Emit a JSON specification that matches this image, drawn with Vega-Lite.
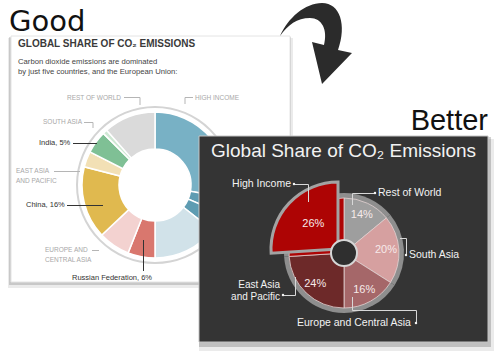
{
  "$schema": "https://vega.github.io/schema/vega-lite/v6.json",
  "width": 500,
  "height": 353,
  "autosize": {"type": "fit", "contains": "padding"},
  "padding": 0,
  "background": "#ffffff",
  "config": {"view": {"stroke": null}, "text": {"font": "Liberation Sans"}},
  "data": {"values": [{}]},
  "datasets": {
    "good": [
      {"segment": "High income", "share": 27.8, "rank": 1},
      {"segment": "High income, part 2", "share": 3.6, "rank": 2},
      {"segment": "High income, part 3", "share": 4.2, "rank": 3},
      {"segment": "High income, other", "share": 14.4, "rank": 4},
      {"segment": "Russian Federation", "share": 6, "rank": 5},
      {"segment": "Europe and Central Asia", "share": 7, "rank": 6},
      {"segment": "China", "share": 16, "rank": 7},
      {"segment": "East Asia and Pacific", "share": 3.5, "rank": 8},
      {"segment": "India", "share": 5, "rank": 9},
      {"segment": "South Asia", "share": 1, "rank": 10},
      {"segment": "Rest of World", "share": 11.5, "rank": 11}
    ],
    "better": [
      {"region": "Rest of World", "share": 0.14, "rank": 1},
      {"region": "South Asia", "share": 0.20, "rank": 2},
      {"region": "Europe and Central Asia", "share": 0.16, "rank": 3},
      {"region": "East Asia and Pacific", "share": 0.24, "rank": 4},
      {"region": "High Income", "share": 0.26, "rank": 5}
    ]
  },
  "resolve": {"scale": {"theta": "independent", "color": "independent"}},
  "layer": [
    {"mark": {"type": "rect", "x": 8, "y": 38, "x2": 293, "y2": 288, "fill": "#000000", "opacity": 0.08}, "encoding": {}},
    {"mark": {"type": "rect", "x": 9, "y": 37, "x2": 291, "y2": 285, "fill": "#000000", "opacity": 0.15}, "encoding": {}},
    {"mark": {"type": "rect", "x": 11, "y": 36, "x2": 290, "y2": 282, "fill": "#ffffff", "stroke": "#e4e4e4", "strokeWidth": 1}, "encoding": {}},
    {"mark": {"type": "text", "x": 18, "y": 44, "align": "left", "baseline": "middle", "fontSize": 10, "fontWeight": "bold", "fill": "#3a3a3a", "text": "GLOBAL SHARE OF CO₂ EMISSIONS"}},
    {"mark": {"type": "text", "x": 18, "y": 64, "align": "left", "baseline": "alphabetic", "fontSize": 7.7, "lineHeight": 10, "fill": "#444444", "text": ["Carbon dioxide emissions are dominated", "by just five countries, and the European Union:"]}},
    {"mark": {"type": "arc", "x": 155, "y": 185, "theta": 0, "theta2": 6.2832, "innerRadius": 77, "outerRadius": 79, "fill": "#d4d4d4"}, "encoding": {}},
    {
      "data": {"name": "good"},
      "mark": {"type": "arc", "x": 155, "y": 185, "innerRadius": 36, "outerRadius": 73, "stroke": "#ffffff", "strokeWidth": 1.5},
      "encoding": {
        "theta": {"field": "share", "type": "quantitative", "stack": true},
        "order": {"field": "rank", "type": "quantitative"},
        "color": {"field": "segment", "type": "nominal", "legend": null,
          "scale": {"domain": ["High income", "High income, part 2", "High income, part 3", "High income, other", "Russian Federation", "Europe and Central Asia", "China", "East Asia and Pacific", "India", "South Asia", "Rest of World"],
                    "range": ["#78b1c5", "#5e9cb2", "#5e9cb2", "#d1e2e9", "#d9776e", "#f3d2d0", "#e0b94f", "#f2e0b5", "#7fc095", "#cfe8d4", "#dadada"]}}
      }
    },
    {"mark": {"type": "text", "x": 121, "y": 98, "align": "right", "baseline": "middle", "fontSize": 6.5, "fill": "#a8a8a8", "text": "REST OF WORLD"}},
    {"mark": {"type": "rule", "stroke": "#b5b5b5", "strokeWidth": 1}, "encoding": {"x": {"value": 124}, "x2": {"value": 140}, "y": {"value": 97.5}, "y2": {"value": 97.5}}},
    {"mark": {"type": "rule", "stroke": "#b5b5b5", "strokeWidth": 1}, "encoding": {"x": {"value": 140}, "x2": {"value": 140}, "y": {"value": 97.5}, "y2": {"value": 105}}},
    {"mark": {"type": "text", "x": 195, "y": 98, "align": "left", "baseline": "middle", "fontSize": 6.5, "fill": "#a8a8a8", "text": "HIGH INCOME"}},
    {"mark": {"type": "rule", "stroke": "#b5b5b5", "strokeWidth": 1}, "encoding": {"x": {"value": 185}, "x2": {"value": 193}, "y": {"value": 97.5}, "y2": {"value": 97.5}}},
    {"mark": {"type": "rule", "stroke": "#b5b5b5", "strokeWidth": 1}, "encoding": {"x": {"value": 185}, "x2": {"value": 185}, "y": {"value": 97.5}, "y2": {"value": 104}}},
    {"mark": {"type": "text", "x": 82, "y": 122, "align": "right", "baseline": "middle", "fontSize": 6.5, "fill": "#a8a8a8", "text": "SOUTH ASIA"}},
    {"mark": {"type": "rule", "stroke": "#b5b5b5", "strokeWidth": 1}, "encoding": {"x": {"value": 84}, "x2": {"value": 93}, "y": {"value": 122.5}, "y2": {"value": 122.5}}},
    {"mark": {"type": "rule", "stroke": "#b5b5b5", "strokeWidth": 1}, "encoding": {"x": {"value": 93}, "x2": {"value": 93}, "y": {"value": 122.5}, "y2": {"value": 128}}},
    {"mark": {"type": "text", "x": 39, "y": 143, "align": "left", "baseline": "middle", "fontSize": 7.5, "fill": "#333333", "text": "India, 5%"}},
    {"mark": {"type": "rule", "stroke": "#333333", "strokeWidth": 1}, "encoding": {"x": {"value": 73}, "x2": {"value": 97}, "y": {"value": 143.5}, "y2": {"value": 143.5}}},
    {"mark": {"type": "text", "x": 16, "y": 173, "align": "left", "baseline": "alphabetic", "fontSize": 6.5, "lineHeight": 10, "fill": "#a8a8a8", "text": ["EAST ASIA", "AND PACIFIC"]}},
    {"mark": {"type": "rule", "stroke": "#b5b5b5", "strokeWidth": 1}, "encoding": {"x": {"value": 54}, "x2": {"value": 80}, "y": {"value": 171.5}, "y2": {"value": 171.5}}},
    {"mark": {"type": "text", "x": 26, "y": 205, "align": "left", "baseline": "middle", "fontSize": 7.5, "fill": "#333333", "text": "China, 16%"}},
    {"mark": {"type": "rule", "stroke": "#333333", "strokeWidth": 1}, "encoding": {"x": {"value": 67}, "x2": {"value": 103}, "y": {"value": 205.5}, "y2": {"value": 205.5}}},
    {"mark": {"type": "text", "x": 45, "y": 252, "align": "left", "baseline": "alphabetic", "fontSize": 6.5, "lineHeight": 10, "fill": "#a8a8a8", "text": ["EUROPE AND", "CENTRAL ASIA"]}},
    {"mark": {"type": "rule", "stroke": "#b5b5b5", "strokeWidth": 1}, "encoding": {"x": {"value": 92}, "x2": {"value": 99}, "y": {"value": 250.5}, "y2": {"value": 250.5}}},
    {"mark": {"type": "text", "x": 72, "y": 278, "align": "left", "baseline": "middle", "fontSize": 7.5, "fill": "#333333", "text": "Russian Federation, 6%"}},
    {"mark": {"type": "rule", "stroke": "#333333", "strokeWidth": 1}, "encoding": {"x": {"value": 143.5}, "x2": {"value": 143.5}, "y": {"value": 240}, "y2": {"value": 271}}},
    {"mark": {"type": "point", "x": 316, "y": 43, "size": 7396, "filled": true, "fill": "#2b2b2b", "opacity": 1, "strokeWidth": 0,
      "shape": "M-0.837,-0.163 C-0.651,-0.581 -0.256,-0.93 0.14,-0.93 C0.558,-0.93 0.721,-0.419 0.512,0.163 L0.837,0.233 L0.14,0.953 L-0.093,-0.023 L0.186,0.047 C0.279,-0.302 0.14,-0.581 -0.14,-0.581 C-0.442,-0.581 -0.651,-0.419 -0.837,-0.163 Z"}, "encoding": {}},
    {"mark": {"type": "text", "x": 9, "y": 22, "align": "left", "baseline": "middle", "font": "DejaVu Sans", "fontSize": 29, "fill": "#111111", "text": "Good"}},
    {"mark": {"type": "text", "x": 488, "y": 121, "align": "right", "baseline": "middle", "fontSize": 29, "fill": "#111111", "text": "Better"}},
    {"mark": {"type": "rect", "x": 199, "y": 139, "x2": 494, "y2": 351, "fill": "#000000", "opacity": 0.08}, "encoding": {}},
    {"mark": {"type": "rect", "x": 199, "y": 137, "x2": 491, "y2": 347, "fill": "#000000", "opacity": 0.18}, "encoding": {}},
    {"mark": {"type": "rect", "x": 199, "y": 136, "x2": 488, "y2": 342, "fill": "#343434", "stroke": "#c4c4c4", "strokeWidth": 1}, "encoding": {}},
    {"mark": {"type": "text", "x": 211, "y": 151, "align": "left", "baseline": "middle", "fontSize": 19, "fill": "#f2f2f2", "text": "Global Share of CO₂ Emissions"}},
    {
      "data": {"name": "better"},
      "mark": {"type": "arc", "x": 344, "y": 253, "outerRadius": 60, "fill": "#8e8e8e"},
      "encoding": {
        "theta": {"field": "share", "type": "quantitative", "stack": true},
        "order": {"field": "rank", "type": "quantitative"}
      }
    },
    {
      "data": {"name": "better"},
      "mark": {"type": "arc", "x": 344, "y": 253, "outerRadius": 55, "stroke": "#e2d2d2", "strokeWidth": 0.8},
      "encoding": {
        "theta": {"field": "share", "type": "quantitative", "stack": true},
        "order": {"field": "rank", "type": "quantitative"},
        "color": {"field": "region", "type": "nominal", "legend": null,
          "scale": {"domain": ["Rest of World", "South Asia", "Europe and Central Asia", "East Asia and Pacific", "High Income"],
                    "range": ["#9e9e9e", "#d6a0a0", "#a56769", "#6d2929", "#ad0404"]}}
      }
    },
    {
      "data": {"name": "better"},
      "mark": {"type": "arc", "x": 338, "y": 249, "outerRadius": 67, "stroke": "#a3a3a3", "strokeWidth": 3},
      "encoding": {
        "theta": {"field": "share", "type": "quantitative", "stack": true},
        "order": {"field": "rank", "type": "quantitative"},
        "color": {"field": "region", "type": "nominal", "legend": null,
          "scale": {"domain": ["Rest of World", "South Asia", "Europe and Central Asia", "East Asia and Pacific", "High Income"],
                    "range": ["#9e9e9e", "#d6a0a0", "#a56769", "#6d2929", "#ad0404"]}},
        "opacity": {"condition": {"test": "datum.region === 'High Income'", "value": 1}, "value": 0}
      }
    },
    {"mark": {"type": "arc", "x": 344, "y": 253, "theta": 0, "theta2": 6.2832, "outerRadius": 13, "fill": "#2f2f2f", "stroke": "#d6d6d6", "strokeWidth": 2}, "encoding": {}},
    {
      "data": {"name": "better"},
      "mark": {"type": "text", "x": 344, "y": 253, "radius": 42, "fontSize": 11, "fill": "#f6eaea", "align": "center", "baseline": "middle"},
      "encoding": {
        "theta": {"field": "share", "type": "quantitative", "stack": true},
        "order": {"field": "rank", "type": "quantitative"},
        "text": {"field": "share", "type": "quantitative", "format": ".0%"}
      }
    },
    {"mark": {"type": "text", "x": 291, "y": 184, "align": "right", "baseline": "middle", "fontSize": 10.5, "fill": "#f2f2f2", "text": "High Income"}},
    {"mark": {"type": "rule", "stroke": "#d8d8d8", "strokeWidth": 1}, "encoding": {"x": {"value": 294}, "x2": {"value": 308.5}, "y": {"value": 184.5}, "y2": {"value": 184.5}}},
    {"mark": {"type": "rule", "stroke": "#d8d8d8", "strokeWidth": 1}, "encoding": {"x": {"value": 308.5}, "x2": {"value": 308.5}, "y": {"value": 184.5}, "y2": {"value": 202}}},
    {"mark": {"type": "text", "x": 378, "y": 193, "align": "left", "baseline": "middle", "fontSize": 10.5, "fill": "#f2f2f2", "text": "Rest of World"}},
    {"mark": {"type": "rule", "stroke": "#d8d8d8", "strokeWidth": 1}, "encoding": {"x": {"value": 352.5}, "x2": {"value": 375}, "y": {"value": 193.5}, "y2": {"value": 193.5}}},
    {"mark": {"type": "rule", "stroke": "#d8d8d8", "strokeWidth": 1}, "encoding": {"x": {"value": 352.5}, "x2": {"value": 352.5}, "y": {"value": 193.5}, "y2": {"value": 205}}},
    {"mark": {"type": "text", "x": 409, "y": 255, "align": "left", "baseline": "middle", "fontSize": 10.5, "fill": "#f2f2f2", "text": "South Asia"}},
    {"mark": {"type": "rule", "stroke": "#d8d8d8", "strokeWidth": 1}, "encoding": {"x": {"value": 400}, "x2": {"value": 406.5}, "y": {"value": 238.5}, "y2": {"value": 238.5}}},
    {"mark": {"type": "rule", "stroke": "#d8d8d8", "strokeWidth": 1}, "encoding": {"x": {"value": 406.5}, "x2": {"value": 406.5}, "y": {"value": 238.5}, "y2": {"value": 255}}},
    {"mark": {"type": "text", "x": 280, "y": 288, "align": "right", "baseline": "alphabetic", "fontSize": 10, "lineHeight": 11.5, "fill": "#f2f2f2", "text": ["East Asia", "and Pacific"]}},
    {"mark": {"type": "rule", "stroke": "#d8d8d8", "strokeWidth": 1}, "encoding": {"x": {"value": 283}, "x2": {"value": 295.5}, "y": {"value": 295.5}, "y2": {"value": 295.5}}},
    {"mark": {"type": "rule", "stroke": "#d8d8d8", "strokeWidth": 1}, "encoding": {"x": {"value": 295.5}, "x2": {"value": 295.5}, "y": {"value": 277}, "y2": {"value": 295.5}}},
    {"mark": {"type": "text", "x": 297, "y": 323, "align": "left", "baseline": "middle", "fontSize": 10.5, "fill": "#f2f2f2", "text": "Europe and Central Asia"}},
    {"mark": {"type": "rule", "stroke": "#d8d8d8", "strokeWidth": 1}, "encoding": {"x": {"value": 352.5}, "x2": {"value": 352.5}, "y": {"value": 297}, "y2": {"value": 310.5}}},
    {"mark": {"type": "rule", "stroke": "#d8d8d8", "strokeWidth": 1}, "encoding": {"x": {"value": 352.5}, "x2": {"value": 416.5}, "y": {"value": 310.5}, "y2": {"value": 310.5}}},
    {"mark": {"type": "rule", "stroke": "#d8d8d8", "strokeWidth": 1}, "encoding": {"x": {"value": 416.5}, "x2": {"value": 416.5}, "y": {"value": 310.5}, "y2": {"value": 323}}},
    {"mark": {"type": "point", "x": 294, "y": 184, "size": 6, "filled": true, "fill": "#f2f2f2", "opacity": 1}, "encoding": {}},
    {"mark": {"type": "point", "x": 375, "y": 193, "size": 6, "filled": true, "fill": "#f2f2f2", "opacity": 1}, "encoding": {}},
    {"mark": {"type": "point", "x": 406, "y": 255, "size": 6, "filled": true, "fill": "#f2f2f2", "opacity": 1}, "encoding": {}},
    {"mark": {"type": "point", "x": 283, "y": 295, "size": 6, "filled": true, "fill": "#f2f2f2", "opacity": 1}, "encoding": {}},
    {"mark": {"type": "point", "x": 416, "y": 323, "size": 6, "filled": true, "fill": "#f2f2f2", "opacity": 1}, "encoding": {}}
  ]
}
